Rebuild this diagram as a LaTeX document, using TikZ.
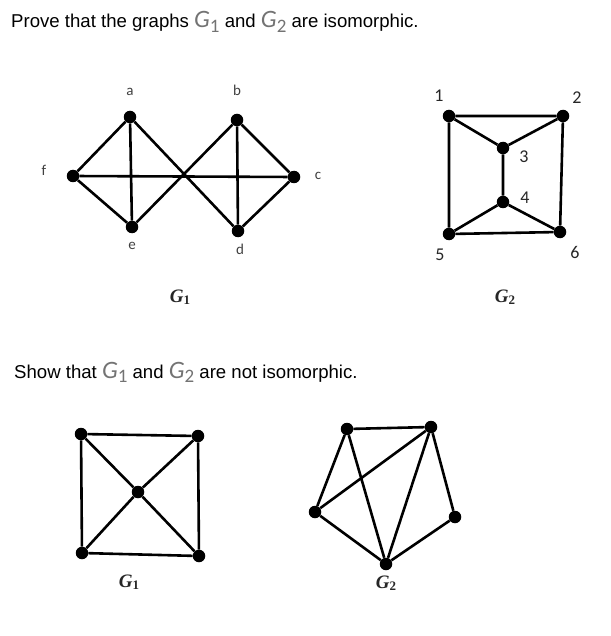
\documentclass[tikz,border=0pt]{standalone}
\usepackage{fontspec}
\setmainfont{Liberation Sans}
\newfontfamily\lblfont{Carlito}
\newfontfamily\gfont{Liberation Serif}
\newcommand{\gsym}[1]{{\color{black!55}\lblfont\itshape\fontsize{25}{25}\selectfont G}\raisebox{-0.45ex}{\color{black!55}\lblfont\fontsize{19}{19}\selectfont #1}}
\newcommand{\gname}[1]{{\gfont\bfseries\itshape\fontsize{19}{19}\selectfont G}\raisebox{-0.35ex}{\gfont\bfseries\fontsize{13}{13}\selectfont #1}}

\tikzset{
  vtx/.style={circle,fill=black,inner sep=0pt,minimum size=12.5pt},
  edge/.style={line width=2.6pt},
  vlbl/.style={font=\lblfont\fontsize{15}{15}\selectfont,text=black!75,inner sep=0pt},
  nlbl/.style={font=\lblfont\fontsize{18}{18}\selectfont,text=black!85,inner sep=0pt},
  glbl/.style={inner sep=0pt,text=black!85},
  task/.style={anchor=base west,inner sep=0pt,font=\fontsize{18.6}{18.6}\selectfont}
}

\begin{document}
\begin{tikzpicture}[x=1pt,y=-1pt]
\useasboundingbox (0,0) rectangle (610,636);
% first question
\node[task] (q1) at (11,28) {Prove that the graphs \gsym{1} and \gsym{2} are isomorphic.};
% G1, letters
\node[vtx] (a) at (130,117) {};
\node[vtx] (b) at (237,120) {};
\node[vtx] (c) at (294,177) {};
\node[vtx] (d) at (238,231) {};
\node[vtx] (e) at (132,227) {};
\node[vtx] (f) at (73,176) {};
\draw[edge] (f) -- (a) (f) -- (e) (f) -- (c) (a) -- (e) (a) -- (d);
\draw[edge] (e) -- (b) (b) -- (d) (b) -- (c) (c) -- (d);
\node[vlbl] (la) at (130,92) {a};
\node[vlbl] (lb) at (237,90) {b};
\node[vlbl] (lc) at (318,176) {c};
\node[vlbl] (ld) at (240,249) {d};
\node[vlbl] (le) at (132,246) {e};
\node[vlbl] (lf) at (44,170) {f};
\node[glbl] (g1a) at (180,297) {\gname{1}};
% G2, numbers
\node[vtx] (n1) at (449,116) {};
\node[vtx] (n2) at (563,116) {};
\node[vtx] (n3) at (503,148) {};
\node[vtx] (n4) at (503,202) {};
\node[vtx] (n5) at (449,234) {};
\node[vtx] (n6) at (560,232) {};
\draw[edge] (n1) -- (n2) -- (n6) -- (n5) -- (n1);
\draw[edge] (n1) -- (n3) (n2) -- (n3) (n3) -- (n4) (n4) -- (n5) (n4) -- (n6);
\node[nlbl] (l1) at (439,96) {1};
\node[nlbl] (l2) at (577,98) {2};
\node[nlbl] (l3) at (524,157) {3};
\node[nlbl] (l4) at (525,198) {4};
\node[nlbl] (l5) at (440,255) {5};
\node[nlbl] (l6) at (575,252) {6};
\node[glbl] (g2a) at (505,297) {\gname{2}};
% second question
\node[task] (q2) at (14,378) {Show that \gsym{1} and \gsym{2} are not isomorphic.};
% square with centre
\node[vtx] (tl) at (81,434) {};
\node[vtx] (tr) at (198,436) {};
\node[vtx] (mc) at (138,492) {};
\node[vtx] (bl) at (82,553) {};
\node[vtx] (br) at (199,556) {};
\draw[edge] (tl) -- (tr) -- (br) -- (bl) -- (tl);
\draw[edge] (tl) -- (mc) -- (br) (tr) -- (mc) -- (bl);
\node[glbl] (g1b) at (129,582) {\gname{1}};
% pentagon-like graph
\node[vtx] (pa) at (347,429) {};
\node[vtx] (pb) at (431,427) {};
\node[vtx] (pl) at (315,512) {};
\node[vtx] (pr) at (455,517) {};
\node[vtx] (pd) at (386,564) {};
\draw[edge] (pa) -- (pb) (pa) -- (pl) (pa) -- (pd) (pb) -- (pl);
\draw[edge] (pb) -- (pd) (pb) -- (pr) (pl) -- (pd) (pr) -- (pd);
\node[glbl] (g2b) at (386,583) {\gname{2}};
\end{tikzpicture}
\end{document}
